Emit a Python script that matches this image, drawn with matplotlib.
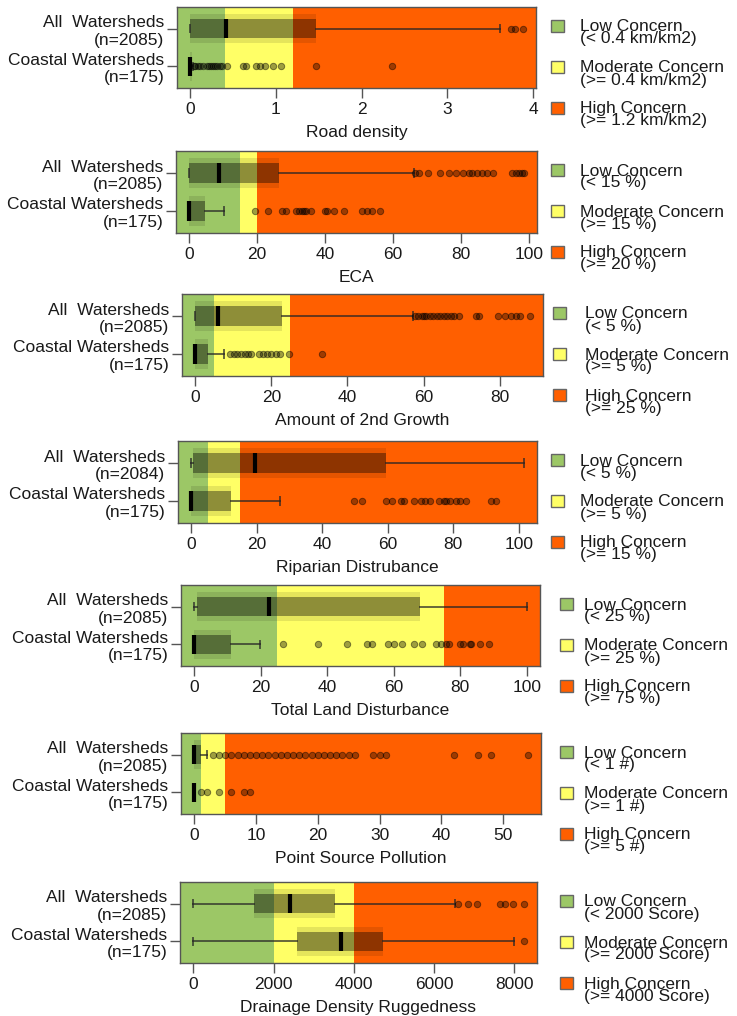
import numpy as np
import matplotlib
matplotlib.use("Agg")
import matplotlib.pyplot as plt
from matplotlib.patches import Rectangle

plt.rcParams['font.family'] = ['Liberation Sans', 'DejaVu Sans']

# ---- data ----
metrics = ["Road density", "ECA", "Amount of 2nd Growth", "Riparian Distrubance",
           "Total Land Disturbance", "Point Source Pollution", "Drainage Density Ruggedness"]
low_cut = [0.4, 15, 5, 5, 25, 1, 2000]
high_cut = [1.2, 20, 25, 15, 75, 5, 4000]
units = ["km/km2", "%", "%", "%", "%", "#", "Score"]
n_all = [2085, 2085, 2085, 2084, 2085, 2085, 2085]
n_coastal = [175, 175, 175, 175, 175, 175, 175]
tick_step = [1, 20, 20, 20, 20, 10, 2000]
tick_max = [4, 100, 80, 100, 100, 50, 8000]

# (whisker low, q1, median, q3, whisker high)
all_box = [(0, 0, 0.42, 1.47, 3.62),
           (0, 0, 8.6, 26.3, 66.2),
           (0, 0, 6.0, 22.8, 57.3),
           (0, 0.4, 19.3, 59.6, 101.5),
           (0, 0.7, 22.6, 67.8, 100),
           (0, 0, 0, 1, 2),
           (0, 1512, 2419, 3523, 6512)]
coastal_box = [(0, 0, 0, 0.02, 0.03),
               (0, 0, 0, 4.5, 10.3),
               (0, 0, 0, 3.3, 7.4),
               (0, 0, 0, 12.1, 27.1),
               (0, 0, 0, 10.9, 19.8),
               (0, 0, 0, 0, 0),
               (0, 2593, 3686, 4733, 7988)]

all_out = [
    [3.74, 3.79, 3.88],
    [66.5, 67.6, 70.3, 73.8, 76.6, 78.6, 80.7, 82.5, 83.4, 84.8, 86.2, 87.6, 89.4,
     95.2, 96.3, 97.2, 97.9, 98.5],
    [57.7, 58.6, 59.5, 60.1, 60.7, 61.6, 62.6, 63.6, 64.4, 65.3, 66.3, 67.3, 68.1,
     69.4, 73.7, 74.6, 79.6, 81.4, 83.0, 84.2, 85.4, 87.9],
    [],
    [],
    [3, 4, 5, 6, 7, 8, 9, 10, 11, 12, 13, 14, 15, 16, 17, 18, 19, 20, 21, 22, 23, 24,
     25, 26, 29, 30, 31, 42, 46, 48, 54],
    [6593, 6837, 7070, 7651, 7767, 7965, 8233],
]
coastal_out = [
    [0.04, 0.06, 0.09, 0.11, 0.15, 0.19, 0.22, 0.24, 0.27, 0.29, 0.31, 0.35, 0.37,
     0.43, 0.62, 0.65, 0.77, 0.81, 0.87, 0.97, 1.06, 1.47, 2.35],
    [19.3, 23.2, 27.2, 28.4, 31.3, 32.4, 33.1, 33.8, 34.5, 35.9, 40, 40.7, 42.5,
     45.5, 50.8, 52.4, 53.8, 56.3],
    [9.1, 10.1, 11, 12, 13, 13.8, 14.7, 16.7, 17.7, 18.8, 19.8, 21.2, 22.2, 24.6, 33.3],
    [49.6, 52.1, 59.3, 61.4, 63.9, 65, 67.9, 70, 71.4, 72.9, 75.7, 77.1, 77.9, 79,
     80.7, 82.1, 84, 91.4, 93.1],
    [26.6, 37.1, 45.9, 52, 53.4, 58.3, 60, 62.6, 66, 68.5, 72.7, 74.2, 75.6, 76.6,
     79.8, 80.8, 83, 83.3, 85.9, 88.7],
    [1, 2, 4, 6, 8, 9],
    [8233],
]

# ---- layout (pixels in a 737x1016 canvas): left, right, top, bottom ----
W, H = 737, 1016
panel_px = [(177, 536, 7, 88), (176, 537, 151, 233), (182, 543, 294, 376),
            (178, 537, 441, 523), (181, 540, 585, 666), (181, 541, 733, 814),
            (180, 537, 882, 963)]
legend_px = [(551, 580), (551, 580), (553, 585), (551, 580), (560, 584),
             (560, 584), (560, 584)]

GREEN = '#9cc766'
YELLOW = '#ffff66'
ORANGE = '#ff5f00'
FS = 12.5

fig = plt.figure(figsize=(W / 100, H / 100), dpi=100)

for i in range(7):
    l, r, t, b = panel_px[i]
    ax = fig.add_axes([l / W, 1 - b / H, (r - l) / W, (b - t) / H])

    vals = list(all_box[i]) + list(coastal_box[i]) + all_out[i] + coastal_out[i]
    lo, hi = min(vals), max(vals)
    pad = 0.04 * (hi - lo)
    x0, x1 = lo - pad, hi + pad

    ax.axvspan(x0, low_cut[i], color=GREEN, lw=0, zorder=0)
    ax.axvspan(low_cut[i], high_cut[i], color=YELLOW, lw=0, zorder=0)
    ax.axvspan(high_cut[i], x1, color=ORANGE, lw=0, zorder=0)

    stats = []
    for bx, outs in ((all_box[i], all_out[i]), (coastal_box[i], coastal_out[i])):
        wl, q1, med, q3, wh = bx
        stats.append(dict(whislo=wl, q1=q1, med=med, q3=q3, whishi=wh, fliers=outs))

    # wide faint band behind each box
    ax.bxp(stats, positions=[1, 2], widths=0.77, orientation='horizontal',
           patch_artist=True, showcaps=False, showfliers=False,
           boxprops=dict(facecolor=(0, 0, 0, 0.1), edgecolor='none'),
           whiskerprops=dict(linestyle='none'),
           medianprops=dict(linestyle='none'), manage_ticks=False)
    # the box itself
    ax.bxp(stats, positions=[1, 2], widths=0.51, orientation='horizontal',
           patch_artist=True, capwidths=0.19,
           boxprops=dict(facecolor=(0, 0, 0, 0.38), edgecolor='none'),
           whiskerprops=dict(color=(0.15, 0.15, 0.15, 0.7), lw=1.4),
           capprops=dict(color=(0.15, 0.15, 0.15, 0.7), lw=1.4),
           medianprops=dict(color='black', lw=3, solid_capstyle='butt'),
           flierprops=dict(marker='o', markersize=4.6, markerfacecolor=(0, 0, 0, 0.38),
                           markeredgecolor=(0, 0, 0, 0.45), markeredgewidth=0.7),
           manage_ticks=False)

    ax.set_xlim(x0, x1)
    ax.set_ylim(2.58, 0.42)
    ax.set_xticks(np.arange(0, tick_max[i] + tick_step[i] / 2, tick_step[i]))
    ax.set_yticks([1, 2])
    ax.set_yticklabels([f"All  Watersheds\n(n={n_all[i]})",
                        f"Coastal Watersheds\n(n={n_coastal[i]})"])
    ax.tick_params(axis='both', labelsize=FS, length=7, width=1, color='#555555',
                   colors='#555555', labelcolor='#1a1a1a')
    ax.tick_params(axis='x', pad=3)
    ax.tick_params(axis='y', pad=2)
    ax.set_xlabel(metrics[i], fontsize=FS, color='#1a1a1a', labelpad=6)
    for s in ax.spines.values():
        s.set_color('#555555')
        s.set_linewidth(1)

    # legend
    sq_x, tx = legend_px[i]
    labels = [("Low Concern", f"(< {low_cut[i]:g} {units[i]})"),
              ("Moderate Concern", f"(>= {low_cut[i]:g} {units[i]})"),
              ("High Concern", f"(>= {high_cut[i]:g} {units[i]})")]
    for k, (col, lab) in enumerate(zip([GREEN, YELLOW, ORANGE], labels)):
        cy = t + 19 + 41 * k
        fig.add_artist(Rectangle((sq_x / W, 1 - (cy + 6) / H), 13 / W, 12 / H,
                                 transform=fig.transFigure, facecolor=col,
                                 edgecolor='#666666', lw=1))
        fig.text(tx / W, 1 - (cy + 7) / H, lab[0] + "\n" + lab[1], fontsize=FS,
                 va='center', ha='left', linespacing=0.75, color='#1a1a1a')

fig.savefig("out.png", dpi=100)
